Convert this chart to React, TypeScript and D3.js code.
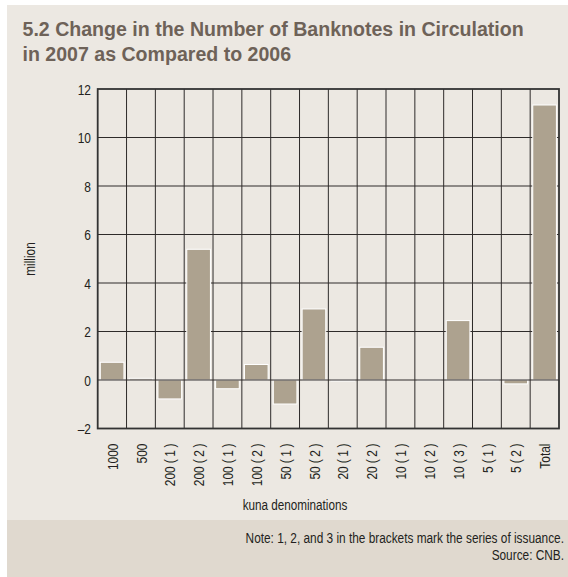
import { useEffect } from 'react';
import * as d3 from 'd3';

const categories = [
  '1000', '500', '200 (1)', '200 (2)', '100 (1)', '100 (2)', '50 (1)', '50 (2)',
  '20 (1)', '20 (2)', '10 (1)', '10 (2)', '10 (3)', '5 (1)', '5 (2)', 'Total',
];
const changes = [
  0.73, 0.07, -0.78, 5.39, -0.36, 0.64, -0.99, 2.93,
  -0.04, 1.35, 0, -0.02, 2.45, -0.03, -0.16, 11.34,
];
const yTicks = [-2, 0, 2, 4, 6, 8, 10, 12];

const W = 568;
const H = 577;
const plot = { left: 97.7, right: 559, top: 89, bottom: 428.5 };
const FONT = '"Liberation Sans", Arial, sans-serif';
const INK = '#231f20';
const GRID = '#2e2b2a';

// condensed text: the reference uses a narrow face, so squeeze a regular one
function Label({ x, y, rotate = 0, anchor = 'start', size = 15, squeeze = 0.78, dy, weight, fill = INK, children }: {
  x: number; y: number; rotate?: number; anchor?: string; size?: number; squeeze?: number;
  dy?: string; weight?: string; fill?: string; children: React.ReactNode;
}) {
  return (
    <text transform={`translate(${x},${y}) rotate(${rotate}) scale(${squeeze},1)`} textAnchor={anchor}
      dy={dy} fontFamily={FONT} fontSize={size} fontWeight={weight} fill={fill}>
      {children}
    </text>
  );
}

// series numbers in brackets are set loosely in the original
function Denomination({ name }: { name: string }) {
  const m = name.match(/^(\S+) \((\d)\)$/);
  if (!m) return <>{name}</>;
  return (
    <>
      <tspan>{m[1]}</tspan>
      <tspan dx={3.8}>(</tspan>
      <tspan dx={3.4}>{m[2]}</tspan>
      <tspan dx={3.4}>)</tspan>
    </>
  );
}

export default function App() {
  useEffect(() => {
    document.body.style.margin = '0';
  }, []);

  const x = d3
    .scaleBand<string>()
    .domain(categories)
    .range([plot.left, plot.right])
    .paddingInner(0.18)
    .paddingOuter(0.09);
  const y = d3.scaleLinear().domain([-2, 12]).range([plot.bottom, plot.top]);
  const step = x.step();
  const bounds = d3.range(1, categories.length).map((i) => plot.left + i * step);

  return (
    <svg width={W} height={H} viewBox={`0 0 ${W} ${H}`} style={{ display: 'block', background: '#fff' }}>
      <rect x={7} y={5} width={W - 7} height={H - 5} fill="#ece8e2" />
      <rect x={7} y={520} width={W - 7} height={H - 520} fill="#e0d9cf" />

      <Label x={22.5} y={36} size={20.5} squeeze={0.955} weight="bold" fill="#6e6258">
        5.2 Change in the Number of Banknotes in Circulation
      </Label>
      <Label x={22.5} y={61} size={20.5} squeeze={0.955} weight="bold" fill="#6e6258">
        in 2007 as Compared to 2006
      </Label>

      {/* grid */}
      {yTicks.filter((t) => t !== -2 && t !== 0 && t !== 12).map((t) => (
        <line key={t} x1={plot.left} x2={plot.right} y1={y(t)} y2={y(t)} stroke={GRID} strokeWidth={1} />
      ))}
      {bounds.map((b, i) => (
        <line key={i} x1={b} x2={b} y1={plot.top} y2={plot.bottom} stroke={GRID} strokeWidth={1} />
      ))}

      {/* bars */}
      {categories.map((c, i) => {
        const v = changes[i];
        if (v === 0) return null;
        const y0 = y(Math.max(0, v));
        const y1 = y(Math.min(0, v));
        return (
          <rect key={c} x={x(c)} y={y0} width={x.bandwidth()} height={Math.max(0.6, y1 - y0)}
            fill="#ada28f" stroke="#ffffff" strokeWidth={1} />
        );
      })}

      <line x1={plot.left} x2={plot.right} y1={y(0)} y2={y(0)} stroke={GRID} strokeWidth={1} />
      <rect x={plot.left} y={plot.top} width={plot.right - plot.left} height={plot.bottom - plot.top}
        fill="none" stroke="#333" strokeWidth={1.8} />

      {/* y ticks */}
      {yTicks.map((t) => (
        <Label key={t} x={91} y={y(t)} dy="0.36em" anchor="end" size={15.5} squeeze={0.77}>
          {t < 0 ? `\u2013${Math.abs(t)}` : t}
        </Label>
      ))}
      <Label x={35} y={259} rotate={-90} anchor="middle" size={14.5} squeeze={0.82}>
        million
      </Label>

      {/* x labels */}
      {categories.map((c) => (
        <Label key={c} x={(x(c) ?? 0) + x.bandwidth() / 2} y={443.5} rotate={-90} anchor="end"
          dy="0.36em" size={15.5} squeeze={0.77}>
          <Denomination name={c} />
        </Label>
      ))}
      <Label x={295} y={510} anchor="middle" size={15}>
        kuna denominations
      </Label>

      {/* footer */}
      <Label x={564} y={543} anchor="end" size={15} squeeze={0.79}>
        Note: 1, 2, and 3 in the brackets mark the series of issuance.
      </Label>
      <Label x={564} y={560} anchor="end" size={15} squeeze={0.79}>
        Source: CNB.
      </Label>
    </svg>
  );
}
